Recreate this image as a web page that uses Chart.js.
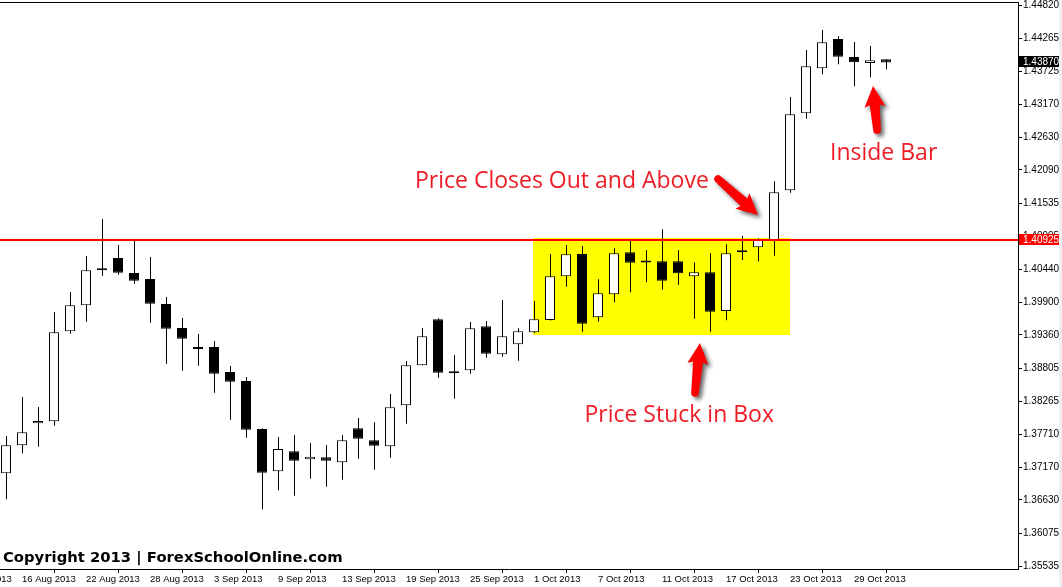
<!DOCTYPE html>
<html>
<head>
<meta charset="utf-8">
<script src="https://cdn.jsdelivr.net/npm/chart.js@4.4.1/dist/chart.umd.min.js"></script>
<style>
html,body{margin:0;padding:0;background:#f0f0f0;overflow:hidden;width:1062px;height:587px}
#wrap{position:absolute;left:0;top:0;width:1059px;height:587px;background:#fff}
canvas{display:block}
</style>
</head>
<body>
<div id="wrap"><canvas id="c" width="1059" height="587"></canvas></div>
<script>
// ---- data (daily bars) ----
const earlierDates = ['12 Aug 2013','13 Aug 2013','14 Aug 2013'];
const dates = ['15 Aug 2013','16 Aug 2013','19 Aug 2013','20 Aug 2013','21 Aug 2013','22 Aug 2013','23 Aug 2013','26 Aug 2013','27 Aug 2013','28 Aug 2013','29 Aug 2013','30 Aug 2013',
 '2 Sep 2013','3 Sep 2013','4 Sep 2013','5 Sep 2013','6 Sep 2013','9 Sep 2013','10 Sep 2013','11 Sep 2013','12 Sep 2013','13 Sep 2013','16 Sep 2013','17 Sep 2013','18 Sep 2013','19 Sep 2013','20 Sep 2013','23 Sep 2013','24 Sep 2013','25 Sep 2013','26 Sep 2013','27 Sep 2013','30 Sep 2013',
 '1 Oct 2013','2 Oct 2013','3 Oct 2013','4 Oct 2013','7 Oct 2013','8 Oct 2013','9 Oct 2013','10 Oct 2013','11 Oct 2013','14 Oct 2013','15 Oct 2013','16 Oct 2013','17 Oct 2013','18 Oct 2013','21 Oct 2013','22 Oct 2013','23 Oct 2013','24 Oct 2013','25 Oct 2013','28 Oct 2013','29 Oct 2013','30 Oct 2013','31 Oct 2013'];
const openP  = [1.37070,1.37533,1.37897,1.37930,1.39420,1.39850,1.40446,1.40633,1.40385,1.40285,1.39872,1.39474,
 1.39138,1.39160,1.38746,1.38597,1.37803,1.37103,1.37434,1.37301,1.37335,1.37252,1.37814,1.37616,1.37517,1.38195,1.38857,1.39618,1.38725,1.38774,1.39503,1.39039,1.39205,
 1.39403,1.39607,1.40330,1.40699,1.39651,1.40032,1.40727,1.40567,1.40578,1.40578,1.40330,1.40396,1.39756,1.40727,1.40810,1.40926,1.41753,1.43028,1.43772,1.44257,1.43959,1.43860,1.43921];
const highP  = [1.37687,1.38332,1.38167,1.39739,1.40070,1.40666,1.41278,1.40848,1.40931,1.40649,1.39987,1.39640,
 1.39375,1.39259,1.38846,1.38663,1.37814,1.37670,1.37704,1.37571,1.37538,1.37704,1.37985,1.37914,1.38382,1.38928,1.39474,1.39635,1.39028,1.39574,1.39590,1.39938,1.39469,
 1.39921,1.40699,1.40848,1.40831,1.40280,1.40793,1.40919,1.40760,1.41108,1.40760,1.40562,1.40711,1.40860,1.40997,1.40959,1.41902,1.43297,1.44075,1.44406,1.44307,1.44208,1.44142,1.43921];
const lowP   = [1.36639,1.37401,1.37510,1.37858,1.39380,1.39579,1.40340,1.40357,1.40208,1.39562,1.38884,1.38768,
 1.38851,1.38404,1.37957,1.37659,1.36474,1.36788,1.36699,1.36980,1.36848,1.36964,1.37311,1.37129,1.37328,1.37891,1.38854,1.38652,1.38304,1.38718,1.38983,1.38999,1.38933,
 1.39392,1.39599,1.40158,1.39413,1.39579,1.39900,1.40065,1.40231,1.40108,1.40191,1.39628,1.39413,1.39602,1.40600,1.40575,1.40671,1.41714,1.42938,1.43673,1.43839,1.43475,1.43624,1.43756];
const closeP = [1.37533,1.37748,1.37935,1.39403,1.39850,1.40429,1.40429,1.40390,1.40257,1.39877,1.39463,1.39297,
 1.39127,1.38718,1.38586,1.37791,1.37080,1.37472,1.37278,1.37344,1.37278,1.37616,1.37642,1.37527,1.38162,1.38857,1.39337,1.38735,1.38758,1.39469,1.39049,1.39337,1.39420,
 1.39618,1.40330,1.40694,1.39546,1.40049,1.40711,1.40555,1.40558,1.40257,1.40380,1.40396,1.39744,1.40711,1.40760,1.40942,1.41720,1.43011,1.43806,1.44203,1.43964,1.43872,1.43905,1.43870];
const yTickValues = [1.44820,1.44265,1.43725,1.43170,1.42630,1.42090,1.41535,1.40995,1.40440,1.39900,1.39360,1.38805,1.38265,1.37710,1.37170,1.36630,1.36075,1.35535];
const levelPrice = 1.40925;
const lastPrice = 1.43870;

// ---- annotations (in bar-index / price units) ----
const annotations = {
  box: {fromBar: 32.94, toBar: 49.0, top: 1.40964, bottom: 1.39359},
  arrows: [
    {from: [44.5, 1.41940], to: [47.0, 1.41345]},
    {from: [43.06, 1.38399], to: [43.375, 1.39226]},
    {from: [54.44, 1.42751], to: [54.19, 1.43480]}
  ],
  texts: [
    {text: 'Price Closes Out and Above', at: [25.56, 1.41786]},
    {text: 'Price Stuck in Box', at: [36.15, 1.37924]},
    {text: 'Inside Bar', at: [51.5, 1.42255]}
  ],
  copyright: 'Copyright 2013 | ForexSchoolOnline.com'
};

// ---- view ----
const X_MIN = -0.375, X_MAX = 63.25;
const WICK_SHIFT = 1 / 32; // half a pixel so 1px wicks land on a whole pixel column

// ---- build ----
const allDates = earlierDates.concat(dates);
const xTicks = [];
allDates.forEach((d, k) => { if (k % 4 === 0) xTicks.push({value: k - earlierDates.length, label: d}); });

const bodies = dates.map((d, i) => ({x: i, y: [openP[i], closeP[i]]}));
const wicks = dates.map((d, i) => ({x: i, y: [lowP[i], highP[i]]}));
const bodyColors = dates.map((d, i) => closeP[i] >= openP[i] ? '#ffffff' : '#000000');

function drawArrow(ctx, x1, y1, x2, y2) {
  const dx = x2 - x1, dy = y2 - y1;
  const L = Math.hypot(dx, dy);
  const ang = Math.atan2(dy, dx);
  const headLen = 19, headHalf = 10.5, neckHalf = 5, tailHalf = 3.8;
  ctx.save();
  ctx.translate(x1, y1);
  ctx.rotate(ang);
  ctx.beginPath();
  ctx.moveTo(0, -tailHalf);
  ctx.lineTo(L - headLen, -neckHalf);
  ctx.lineTo(L - headLen - 2, -headHalf);
  ctx.lineTo(L, 0);
  ctx.lineTo(L - headLen - 2, headHalf);
  ctx.lineTo(L - headLen, neckHalf);
  ctx.lineTo(0, tailHalf);
  ctx.arc(0, 0, tailHalf, Math.PI / 2, Math.PI * 1.5);
  ctx.closePath();
  ctx.shadowColor = 'rgba(0,0,0,0.6)';
  ctx.shadowBlur = 4;
  ctx.shadowOffsetX = 3;
  ctx.shadowOffsetY = 3;
  ctx.fillStyle = '#ff0000';
  ctx.fill();
  ctx.restore();
}

const deco = {
  id: 'deco',
  beforeDatasetsDraw(chart) {
    const {ctx, scales: {x, y}} = chart;
    const b = annotations.box;
    const x1 = Math.round(x.getPixelForValue(b.fromBar)), x2 = Math.round(x.getPixelForValue(b.toBar));
    const y1 = Math.round(y.getPixelForValue(b.top)), y2 = Math.round(y.getPixelForValue(b.bottom));
    ctx.save();
    ctx.fillStyle = '#ffff00';
    ctx.fillRect(x1, y1, x2 - x1, y2 - y1);
    ctx.restore();
  },
  afterDatasetsDraw(chart) {
    const {ctx, chartArea: ca, scales: {x, y}} = chart;
    ctx.save();
    const ly = Math.round(y.getPixelForValue(levelPrice));
    ctx.fillStyle = '#ff0000';
    ctx.fillRect(ca.left, ly - 1, ca.right - ca.left, 2);
    annotations.arrows.forEach(a => {
      drawArrow(ctx, x.getPixelForValue(a.from[0]), y.getPixelForValue(a.from[1]),
                     x.getPixelForValue(a.to[0]), y.getPixelForValue(a.to[1]));
    });
    ctx.font = '23px "Open Sans"';
    ctx.fillStyle = '#ee1c25';
    ctx.textBaseline = 'alphabetic';
    ctx.textAlign = 'left';
    annotations.texts.forEach(t => {
      ctx.fillText(t.text, x.getPixelForValue(t.at[0]), y.getPixelForValue(t.at[1]));
    });
    ctx.font = 'bold 14.8px "DejaVu Sans"';
    ctx.fillStyle = '#000000';
    ctx.fillText(annotations.copyright, ca.left + 3, ca.bottom - 7);
    ctx.restore();
  },
  afterDraw(chart) {
    const {ctx, chartArea: ca, scales: {y}} = chart;
    ctx.save();
    ctx.fillStyle = '#000';
    ctx.fillRect(ca.left, ca.top, ca.right - ca.left + 1, 1);
    const tag = (price, bg) => {
      const py = Math.round(y.getPixelForValue(price));
      ctx.fillStyle = bg;
      ctx.fillRect(ca.right + 1, py - 6, chart.width - ca.right - 1, 11);
      ctx.fillStyle = '#fff';
      ctx.font = '10px "Liberation Sans"';
      ctx.textBaseline = 'middle';
      ctx.textAlign = 'left';
      ctx.fillText(price.toFixed(5), ca.right + 5, py);
    };
    tag(levelPrice, '#ff0000');
    tag(lastPrice, '#000000');
    ctx.restore();
  }
};

new Chart(document.getElementById('c'), {
  type: 'bar',
  data: {
    datasets: [
      {data: wicks, xAxisID: 'xw', backgroundColor: '#000', borderWidth: 0, barThickness: 1, grouped: false, order: 2, inflateAmount: 0},
      {data: bodies, xAxisID: 'x', backgroundColor: bodyColors, borderColor: '#000', borderWidth: 1, borderSkipped: false,
       barThickness: 10, grouped: false, order: 1, minBarLength: 2, inflateAmount: 0}
    ]
  },
  options: {
    responsive: false,
    animation: false,
    events: [],
    layout: {padding: {top: 2, left: 0, right: 0, bottom: 0}},
    plugins: {legend: {display: false}, tooltip: {enabled: false}, title: {display: false}},
    scales: {
      x: {
        type: 'linear',
        min: X_MIN,
        max: X_MAX,
        offset: false,
        afterBuildTicks: s => { s.ticks = xTicks.map(t => ({value: t.value})); },
        afterFit: s => { s.height = 18; s.paddingLeft = 0; s.paddingRight = 0; },
        ticks: {
          autoSkip: false, maxRotation: 0, minRotation: 0, align: 'start', padding: 1,
          color: '#000', font: {family: 'Liberation Sans', size: 9.5},
          callback: (v, i) => xTicks[i] ? xTicks[i].label : ''
        },
        grid: {drawOnChartArea: false, drawTicks: true, tickLength: 4, color: '#000'},
        border: {display: true, color: '#000', width: 1}
      },
      xw: {
        type: 'linear',
        display: false,
        min: X_MIN - WICK_SHIFT,
        max: X_MAX - WICK_SHIFT,
        offset: false
      },
      y: {
        type: 'linear',
        position: 'right',
        min: 1.35486,
        max: 1.44870,
        afterBuildTicks: s => { s.ticks = yTickValues.map(v => ({value: v})); },
        afterFit: s => { s.width = 41; s.paddingTop = 0; s.paddingBottom = 0; },
        ticks: {
          autoSkip: false, padding: 1, color: '#000', font: {family: 'Liberation Sans', size: 10},
          callback: v => Number(v).toFixed(5)
        },
        grid: {drawOnChartArea: false, drawTicks: true, tickLength: 4, color: '#000'},
        border: {display: true, color: '#000', width: 1}
      }
    }
  },
  plugins: [deco]
});
</script>
</body>
</html>
